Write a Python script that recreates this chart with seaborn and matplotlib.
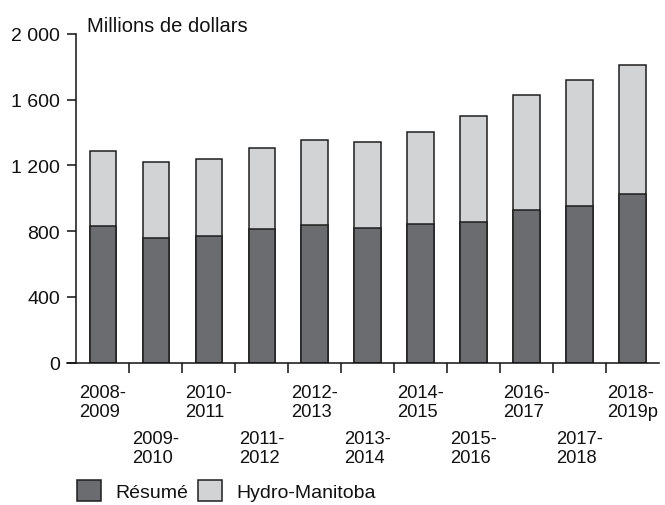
import matplotlib
matplotlib.use("Agg")
import matplotlib.pyplot as plt
import matplotlib.transforms as mtransforms
from matplotlib.patches import Patch
import seaborn as sns
import pandas as pd

# ---- data ----
periods = ["2008-2009", "2009-2010", "2010-2011", "2011-2012", "2012-2013",
           "2013-2014", "2014-2015", "2015-2016", "2016-2017", "2017-2018",
           "2018-2019p"]
tick_labels = ["2008-\n2009", "2009-\n2010", "2010-\n2011", "2011-\n2012",
               "2012-\n2013", "2013-\n2014", "2014-\n2015", "2015-\n2016",
               "2016-\n2017", "2017-\n2018", "2018-\n2019p"]
resume = [829, 756, 772, 815, 837, 821, 841, 857, 930, 953, 1026]
hydro = [458, 466, 468, 492, 519, 521, 563, 641, 699, 764, 786]
y_ticks = [0, 400, 800, 1200, 1600, 2000]
y_tick_labels = ["0", "400", "800", "1 200", "1 600", "2 000"]
series_names = ["Résumé", "Hydro-Manitoba"]
y_title = "Millions de dollars"

sns.set_theme(style="white")
plt.rcParams["font.family"] = ["Liberation Sans", "DejaVu Sans"]
FS = 14

DARK = "#6b6c70"
LIGHT = "#d2d3d5"
EDGE = "#1e1e1e"
TXT = "#111111"

df = pd.DataFrame({"period": periods,
                   "resume": resume,
                   "total": [a + b for a, b in zip(resume, hydro)]})

W, H = 665, 506
fig = plt.figure(figsize=(W / 100, H / 100), dpi=100)
ax = fig.add_axes([67.3 / W, 1 - 363.7 / H, (659 - 67.3) / W, (363.7 - 34.7) / H])

sns.barplot(data=df, x="period", y="total", order=periods, color=LIGHT,
            saturation=1, width=0.5, edgecolor=EDGE, linewidth=1.1,
            errorbar=None, ax=ax)
sns.barplot(data=df, x="period", y="resume", order=periods, color=DARK,
            saturation=1, width=0.5, edgecolor=EDGE, linewidth=1.1,
            errorbar=None, ax=ax)

n = len(periods)
ax.set_xlim(-0.675, n - 1 + 0.505)
ax.set_ylim(0, 2000)
ax.set_xlabel("")
ax.set_ylabel("")

for s in ["top", "right"]:
    ax.spines[s].set_visible(False)
for s in ["left", "bottom"]:
    ax.spines[s].set_color(TXT)
    ax.spines[s].set_linewidth(1.1)
ax.spines["left"].set_position(("data", -0.516))

ax.set_xticks([i + 0.5 for i in range(n - 1)])
ax.set_xticklabels([])
ax.tick_params(axis="x", bottom=True, direction="out", length=7, width=1.1,
               color=TXT)
ax.set_yticks(y_ticks)
ax.set_yticklabels(y_tick_labels)
ax.tick_params(axis="y", left=True, direction="out", length=6.5, width=1.1,
               pad=4.8, color=TXT, labelsize=FS, labelcolor=TXT)

trans = mtransforms.blended_transform_factory(ax.transData, ax.transAxes)
for i, lab in enumerate(tick_labels):
    off = -15.6 if i % 2 == 0 else -48.6
    ax.annotate(lab, xy=(i, 0), xycoords=trans, xytext=(0, off),
                textcoords="offset points", ha="center", va="top",
                multialignment="left", fontsize=13.2, linespacing=1.15,
                color=TXT)

fig.text(86.7 / W, 1 - 31.7 / H, y_title, fontsize=14.5, color=TXT,
         ha="left", va="baseline")

handles = [Patch(facecolor=DARK, edgecolor=EDGE, linewidth=1.1, label=series_names[0]),
           Patch(facecolor=LIGHT, edgecolor=EDGE, linewidth=1.1, label=series_names[1])]
fig.legend(handles=handles, loc="upper left",
           bbox_to_anchor=(76.7 / W, 1 - 481 / H), ncol=2, frameon=False,
           fontsize=FS, handlelength=1.25, handleheight=1.3,
           handletextpad=0.72, columnspacing=0.5, borderpad=0,
           borderaxespad=0, labelcolor=TXT)

fig.savefig("out.png", dpi=100)
